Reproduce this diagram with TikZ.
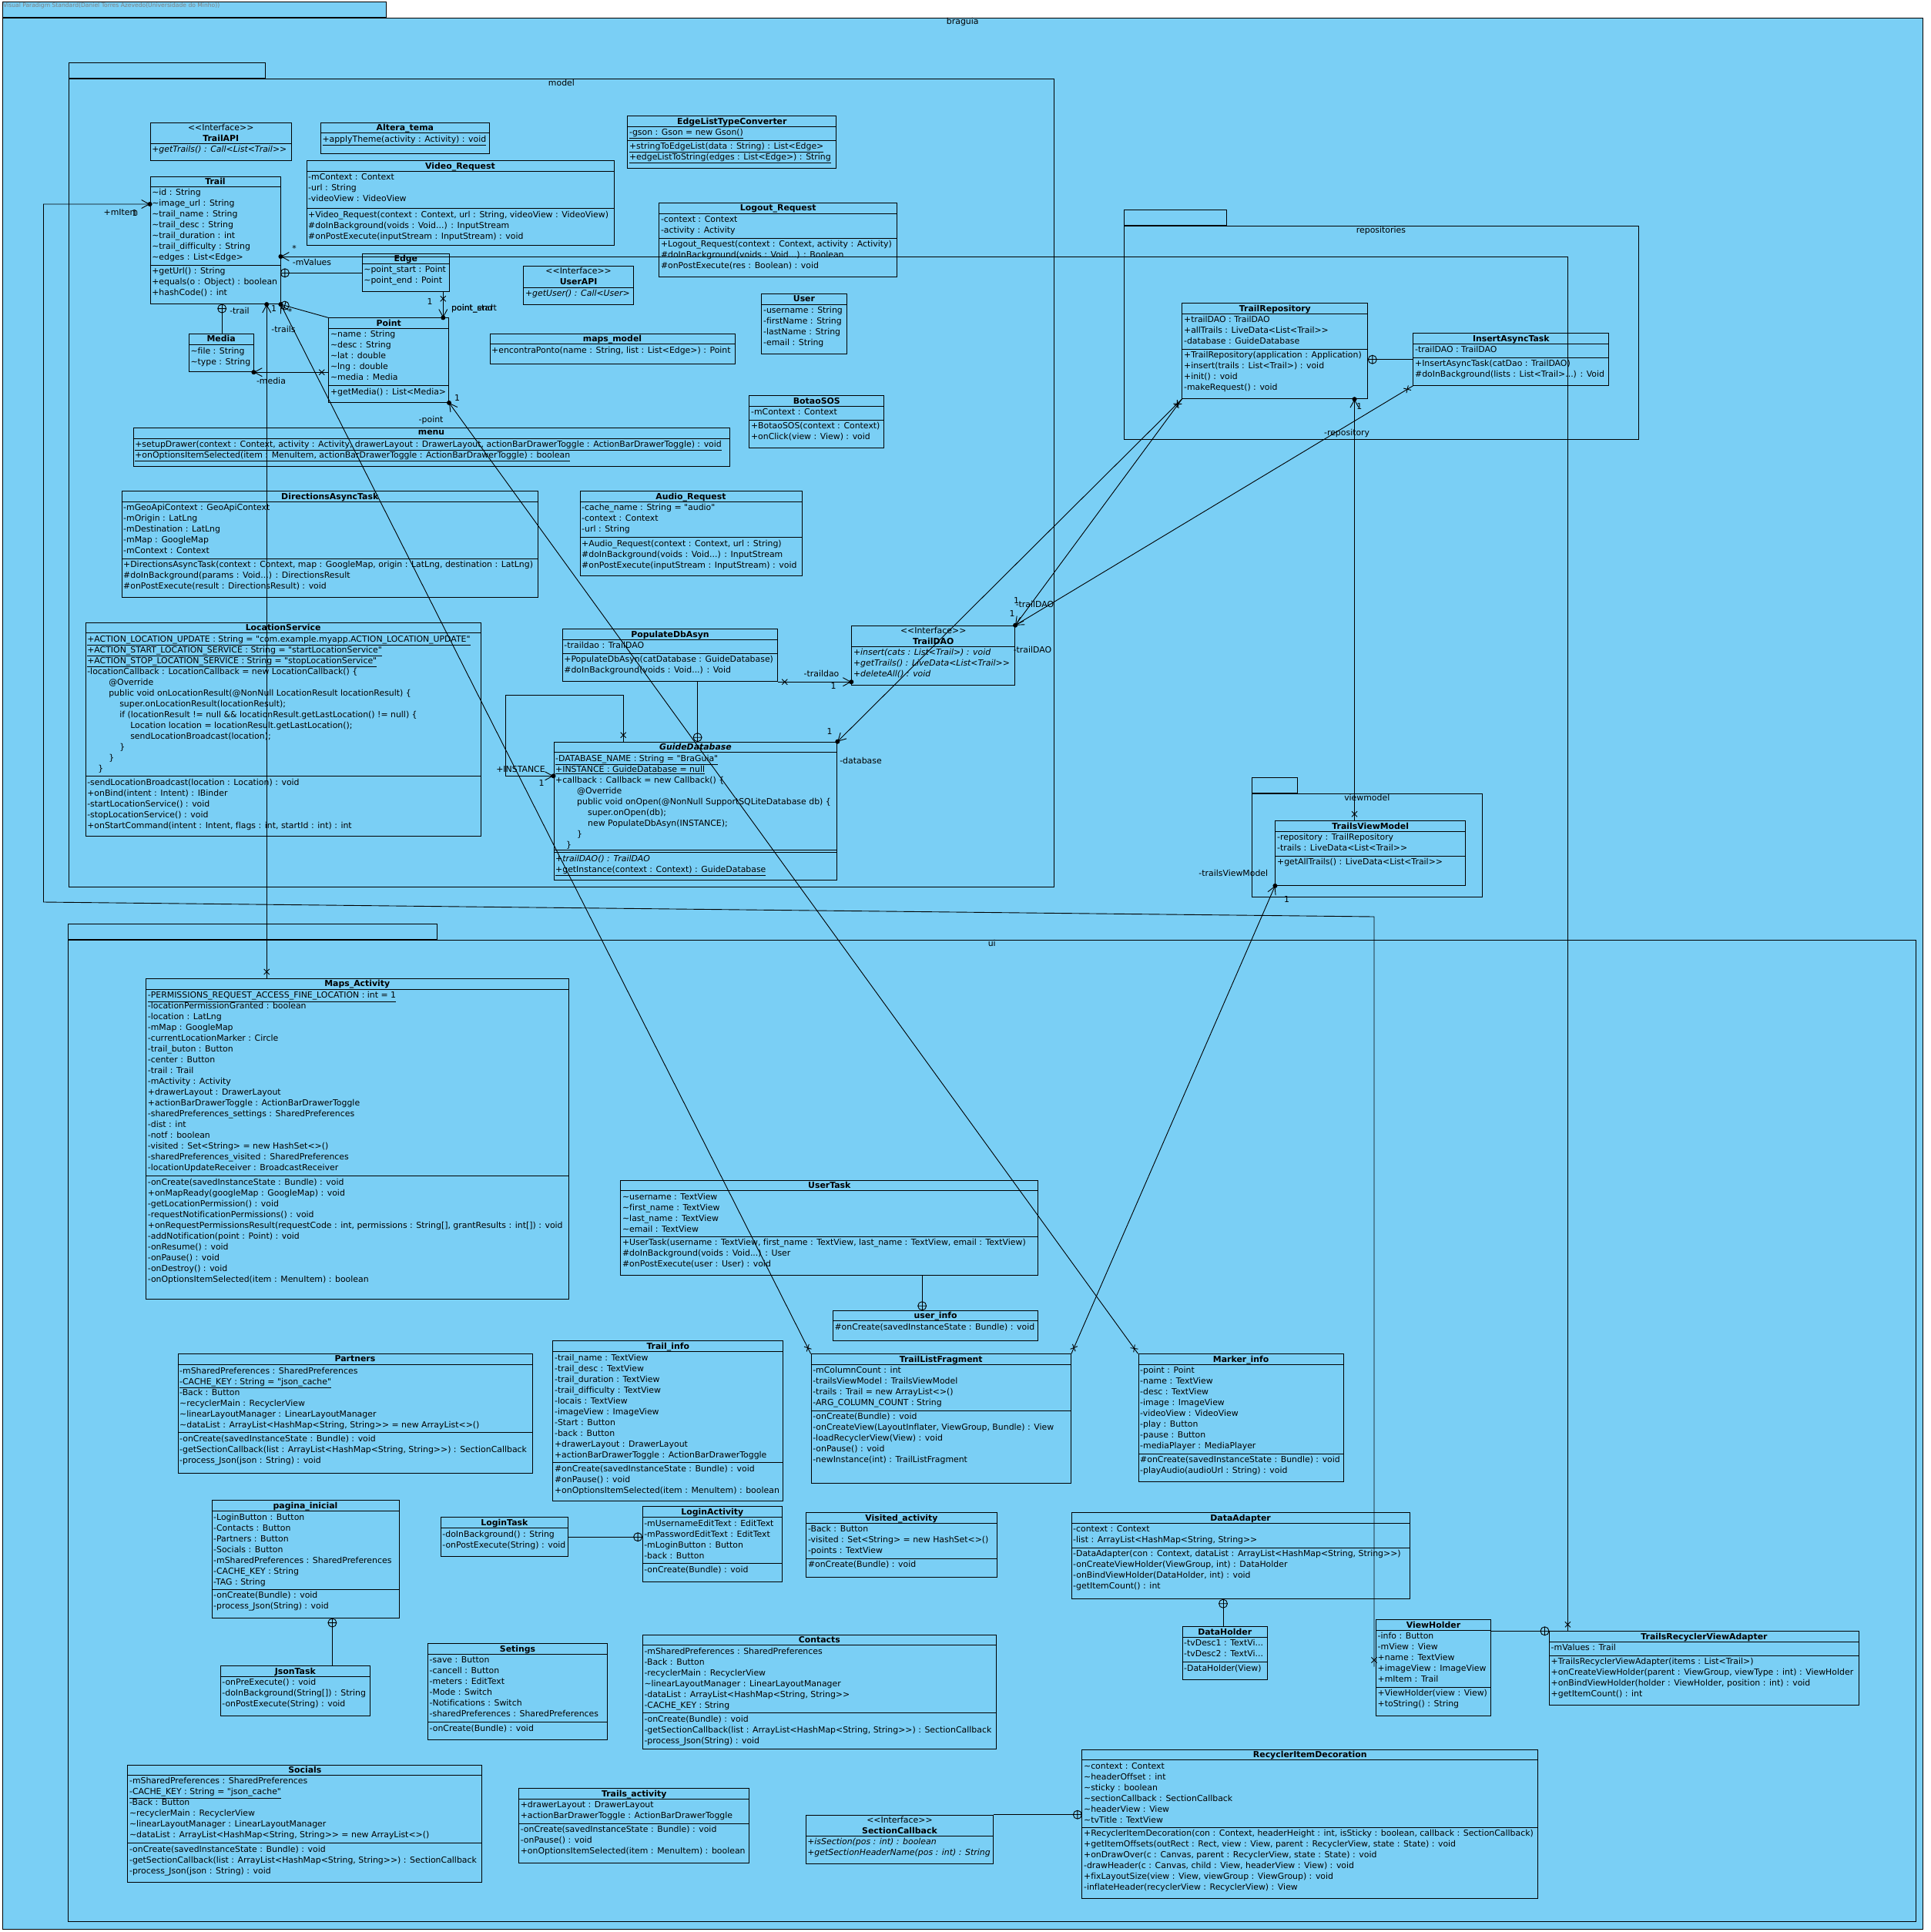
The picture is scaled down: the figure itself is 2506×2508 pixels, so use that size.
\documentclass[tikz,border=0pt]{standalone}
\usepackage{fontspec}
\setmainfont{DejaVu Sans}[Ligatures={TeXOff,NoCommon}]
\usetikzlibrary{calc,arrows.meta}
\definecolor{umlblue}{RGB}{122,207,245}
\newcommand{\memberfont}{\fontsize{10.9}{14}\selectfont}
\newcommand{\til}{\textasciitilde}

\tikzset{
  classbox/.style={draw, fill=umlblue, line width=0.9pt, anchor=north west, inner sep=0pt},
  pkgbox/.style={draw, fill=umlblue, line width=0.9pt, anchor=north west, inner sep=0pt},
  pkglabel/.style={anchor=north, inner sep=1pt, font=\memberfont},
  titletext/.style={anchor=north, align=center, inner sep=2.5pt, font=\memberfont\bfseries},
  membertext/.style={anchor=north west, align=left, inner xsep=2.5pt, inner ysep=3pt, font=\memberfont},
  rolelabel/.style={inner sep=0pt, font=\memberfont},
  link/.style={line width=0.9pt},
  nav/.style={link, -{Straight Barb[length=10pt,width=11pt]}},
}

\newcommand{\umlclass}[6]{%
  \node[classbox, minimum width=#4pt, minimum height=#5pt] (#1) at (#2,#3) {};
  \node[titletext] at (#1.north) {#6};}
\newcommand{\compart}[3]{%
  \draw[line width=0.9pt] ($(#1.north west)+(0,#2)$) -- ($(#1.north east)+(0,#2)$);
  \node[membertext] at ($(#1.north west)+(0,#2)$) {#3};}
\newcommand{\umlpackage}[7]{%
  \node[pkgbox, minimum width=#6pt, minimum height=20pt, anchor=south west] (#1tab) at (#2,#3) {};
  \node[pkgbox, minimum width=#4pt, minimum height=#5pt] (#1) at (#2,#3) {};
  \node[pkglabel] at (#1.north) {#7};}
\newcommand{\nested}[2]{%
  \draw[link] (#1) -- (#2);
  \coordinate (nc) at ($(#1)!5.5pt!(#2)$);
  \draw[link] (nc) circle (5.5pt) ($(nc)!5.5pt!90:(#2)$) -- ($(nc)!5.5pt!-90:(#2)$);}
\newcommand{\xend}[2]{%
  \coordinate (xc) at ($(#1)!8.5pt!(#2)$);
  \draw[link] ($(xc)!5pt!45:(#2)$) -- ($(xc)!5pt!225:(#2)$) ($(xc)!5pt!135:(#2)$) -- ($(xc)!5pt!315:(#2)$);}
\newcommand{\dotend}[1]{\fill (#1) circle (3pt);}

\begin{document}
\begin{tikzpicture}[x=1pt, y=-1pt]
\useasboundingbox (0,0) rectangle (2506,2508);

\umlpackage{braguia}{2.6}{22.5}{2493.4}{2481.8}{498.4}{braguia}
\node[anchor=west, inner sep=0pt, text=gray, font=\fontsize{7.6}{9}\selectfont] (watermark) at (4,7.5) {Visual Paradigm Standard(Daniel Torres Azevedo(Universidade do Minho))};
\umlpackage{model}{89}{102}{1279}{1049}{255}{model}
\umlpackage{repositories}{1458.5}{293.3}{668}{277}{133}{repositories}
\umlpackage{viewmodel}{1624.6}{1030}{299.4}{134.3}{59.4}{viewmodel}
\umlpackage{ui}{88}{1219.5}{2398.6}{1274.8}{479.3}{ui}

\umlclass{trailapi}{194.6}{158.6}{183.4}{49.8}{{\mdseries <<Interface>>}\\TrailAPI}
\compart{trailapi}{27.6}{\textit{+getTrails() : Call<List<Trail>>}}

\umlclass{alteratema}{415.8}{158.6}{219.2}{39.9}{Altera\_tema}
\compart{alteratema}{14.2}{\underline{+applyTheme(activity : Activity) : void}}

\umlclass{videoreq}{397.5}{208.4}{399}{109.9}{Video\_Request}
\compart{videoreq}{14.2}{-mContext : Context\\-url : String\\-videoView : VideoView}
\compart{videoreq}{62.5}{+Video\_Request(context : Context, url : String, videoView : VideoView)\\\#doInBackground(voids : Void...) : InputStream\\\#onPostExecute(inputStream : InputStream) : void}

\umlclass{trail}{194.6}{228.5}{168.9}{165.7}{Trail}
\compart{trail}{13.9}{\til id : String\\\til image\_url : String\\\til trail\_name : String\\\til trail\_desc : String\\\til trail\_duration : int\\\til trail\_difficulty : String\\\til edges : List<Edge>}
\compart{trail}{115.9}{+getUrl() : String\\+equals(o : Object) : boolean\\+hashCode() : int}

\umlclass{edge}{469.7}{328.6}{113.5}{49.8}{Edge}
\compart{edge}{13.8}{\til point\_start : Point\\\til point\_end : Point}

\umlclass{userapi}{679.4}{345}{142.6}{50}{{\mdseries <<Interface>>}\\UserAPI}
\compart{userapi}{28.3}{\textit{+getUser() : Call<User>}}

\umlclass{point}{426.3}{412.4}{155.8}{109.6}{Point}
\compart{point}{13.9}{\til name : String\\\til desc : String\\\til lat : double\\\til lng : double\\\til media : Media}
\compart{point}{88.2}{+getMedia() : List<Media>}

\umlclass{media}{244.8}{432.6}{83.7}{49.8}{Media}
\compart{media}{15}{\til file : String\\\til type : String}

\umlclass{mapsmodel}{635.5}{432.5}{318.1}{39.8}{maps\_model}
\compart{mapsmodel}{14.2}{+encontraPonto(name : String, list : List<Edge>) : Point}

\umlclass{menu}{172.6}{555.4}{774.1}{49.6}{menu}
\compart{menu}{14}{\underline{+setupDrawer(context : Context, activity : Activity, drawerLayout : DrawerLayout, actionBarDrawerToggle : ActionBarDrawerToggle) : void}\\\underline{+onOptionsItemSelected(item : MenuItem, actionBarDrawerToggle : ActionBarDrawerToggle) : boolean}}

\umlclass{edgeconv}{814.4}{150.3}{270.9}{68}{EdgeListTypeConverter}
\compart{edgeconv}{14}{\underline{-gson : Gson = new Gson()}}
\compart{edgeconv}{32}{\underline{+stringToEdgeList(data : String) : List<Edge>}\\\underline{+edgeListToString(edges : List<Edge>) : String}}

\umlclass{logoutreq}{855.3}{263.3}{309}{96}{Logout\_Request}
\compart{logoutreq}{14}{-context : Context\\-activity : Activity}
\compart{logoutreq}{46}{+Logout\_Request(context : Context, activity : Activity)\\\#doInBackground(voids : Void...) : Boolean\\\#onPostExecute(res : Boolean) : void}

\umlclass{user}{988.4}{381.3}{110.2}{78}{User}
\compart{user}{14}{-username : String\\-firstName : String\\-lastName : String\\-email : String}

\umlclass{botaosos}{972.4}{513.3}{174.9}{68}{BotaoSOS}
\compart{botaosos}{14}{-mContext : Context}
\compart{botaosos}{32}{+BotaoSOS(context : Context)\\+onClick(view : View) : void}

\umlclass{directions}{157.5}{637.3}{540.6}{138}{DirectionsAsyncTask}
\compart{directions}{14}{-mGeoApiContext : GeoApiContext\\-mOrigin : LatLng\\-mDestination : LatLng\\-mMap : GoogleMap\\-mContext : Context}
\compart{directions}{88}{+DirectionsAsyncTask(context : Context, map : GoogleMap, origin : LatLng, destination : LatLng)\\\#doInBackground(params : Void...) : DirectionsResult\\\#onPostExecute(result : DirectionsResult) : void}

\umlclass{audioreq}{752.5}{637.3}{288.1}{110}{Audio\_Request}
\compart{audioreq}{14}{-cache\_name : String = "audio"\\-context : Context\\-url : String}
\compart{audioreq}{60.4}{+Audio\_Request(context : Context, url : String)\\\#doInBackground(voids : Void...) : InputStream\\\#onPostExecute(inputStream : InputStream) : void}

\umlclass{locservice}{110.6}{807.7}{513.2}{277.3}{LocationService}
\compart{locservice}{14}{\underline{+ACTION\_LOCATION\_UPDATE : String = "com.example.myapp.ACTION\_LOCATION\_UPDATE"}\\
\underline{+ACTION\_START\_LOCATION\_SERVICE : String = "startLocationService"}\\
\underline{+ACTION\_STOP\_LOCATION\_SERVICE : String = "stopLocationService"}\\
-locationCallback : LocationCallback = new LocationCallback() \{\\
\hspace*{28pt}@Override\\
\hspace*{28pt}public void onLocationResult(@NonNull LocationResult locationResult) \{\\
\hspace*{42pt}super.onLocationResult(locationResult);\\
\hspace*{42pt}if (locationResult != null \&\& locationResult.getLastLocation() != null) \{\\
\hspace*{56pt}Location location = locationResult.getLastLocation();\\
\hspace*{56pt}sendLocationBroadcast(location);\\
\hspace*{42pt}\}\\
\hspace*{28pt}\}\\
\hspace*{14pt}\}}
\compart{locservice}{200}{-sendLocationBroadcast(location : Location) : void\\+onBind(intent : Intent) : IBinder\\-startLocationService() : void\\-stopLocationService() : void\\+onStartCommand(intent : Intent, flags : int, startId : int) : int}

\umlclass{populate}{729.7}{816.3}{279.7}{68}{PopulateDbAsyn}
\compart{populate}{14}{-traildao : TrailDAO}
\compart{populate}{32}{+PopulateDbAsyn(catDatabase : GuideDatabase)\\\#doInBackground(voids : Void...) : Void}

\umlclass{traildao}{1105.3}{811.7}{211.9}{77.6}{{\mdseries <<Interface>>}\\TrailDAO}
\compart{traildao}{27.6}{\textit{+insert(cats : List<Trail>) : void}\\\textit{+getTrails() : LiveData<List<Trail>>}\\\textit{+deleteAll() : void}}

\umlclass{guidedb}{718.5}{962.7}{367.9}{179.6}{\textit{GuideDatabase}}
\compart{guidedb}{14}{\underline{-DATABASE\_NAME : String = "BraGuia"}\\\underline{+INSTANCE : GuideDatabase = null}\\+callback : Callback = new Callback() \{\\
\hspace*{28pt}@Override\\
\hspace*{28pt}public void onOpen(@NonNull SupportSQLiteDatabase db) \{\\
\hspace*{42pt}super.onOpen(db);\\
\hspace*{42pt}new PopulateDbAsyn(INSTANCE);\\
\hspace*{28pt}\}\\
\hspace*{14pt}\}}
\compart{guidedb}{140.6}{}
\compart{guidedb}{144}{\textit{+trailDAO() : TrailDAO}\\\underline{+getInstance(context : Context) : GuideDatabase}}

\umlclass{trailrepo}{1534.4}{393.3}{241}{124}{TrailRepository}
\compart{trailrepo}{14}{+trailDAO : TrailDAO\\+allTrails : LiveData<List<Trail>>\\-database : GuideDatabase}
\compart{trailrepo}{59.7}{+TrailRepository(application : Application)\\+insert(trails : List<Trail>) : void\\+init() : void\\-makeRequest() : void}

\umlclass{insertasync}{1834.4}{432.3}{254}{67.7}{InsertAsyncTask}
\compart{insertasync}{14}{-trailDAO : TrailDAO}
\compart{insertasync}{32}{+InsertAsyncTask(catDao : TrailDAO)\\\#doInBackground(lists : List<Trail>...) : Void}

\umlclass{trailsvm}{1655.4}{1065.3}{246.8}{83.7}{TrailsViewModel}
\compart{trailsvm}{14}{-repository : TrailRepository\\-trails : LiveData<List<Trail>>}
\compart{trailsvm}{45.7}{+getAllTrails() : LiveData<List<Trail>>}

\umlclass{mapsact}{189.2}{1270}{548.3}{416}{Maps\_Activity}
\compart{mapsact}{14.3}{\underline{-PERMISSIONS\_REQUEST\_ACCESS\_FINE\_LOCATION : int = 1}\\-locationPermissionGranted : boolean\\-location : LatLng\\-mMap : GoogleMap\\-currentLocationMarker : Circle\\-trail\_buton : Button\\-center : Button\\-trail : Trail\\-mActivity : Activity\\+drawerLayout : DrawerLayout\\+actionBarDrawerToggle : ActionBarDrawerToggle\\-sharedPreferences\_settings : SharedPreferences\\-dist : int\\-notf : boolean\\-visited : Set<String> = new HashSet<>()\\-sharedPreferences\_visited : SharedPreferences\\-locationUpdateReceiver : BroadcastReceiver}
\compart{mapsact}{256.7}{-onCreate(savedInstanceState : Bundle) : void\\+onMapReady(googleMap : GoogleMap) : void\\-getLocationPermission() : void\\-requestNotificationPermissions() : void\\+onRequestPermissionsResult(requestCode : int, permissions : String[], grantResults : int[]) : void\\-addNotification(point : Point) : void\\-onResume() : void\\-onPause() : void\\-onDestroy() : void\\-onOptionsItemSelected(item : MenuItem) : boolean}

\umlclass{usertask}{805.4}{1531.7}{542}{123.3}{UserTask}
\compart{usertask}{14}{\til username : TextView\\\til first\_name : TextView\\\til last\_name : TextView\\\til email : TextView}
\compart{usertask}{73.6}{+UserTask(username : TextView, first\_name : TextView, last\_name : TextView, email : TextView)\\\#doInBackground(voids : Void...) : User\\\#onPostExecute(user : User) : void}

\umlclass{userinfo}{1080.9}{1700.7}{266.5}{39.6}{user\_info}
\compart{userinfo}{14}{\#onCreate(savedInstanceState : Bundle) : void}

\umlclass{partners}{230.5}{1757.2}{460.1}{154.3}{Partners}
\compart{partners}{14.5}{-mSharedPreferences : SharedPreferences\\\underline{-CACHE\_KEY : String = "json\_cache"}\\-Back : Button\\\til recyclerMain : RecyclerView\\\til linearLayoutManager : LinearLayoutManager\\\til dataList : ArrayList<HashMap<String, String>> = new ArrayList<>()}
\compart{partners}{102.3}{-onCreate(savedInstanceState : Bundle) : void\\-getSectionCallback(list : ArrayList<HashMap<String, String>>) : SectionCallback\\-process\_Json(json : String) : void}

\umlclass{trailinfo}{717.4}{1740.3}{298.9}{208}{Trail\_info}
\compart{trailinfo}{14.5}{-trail\_name : TextView\\-trail\_desc : TextView\\-trail\_duration : TextView\\-trail\_difficulty : TextView\\-locais : TextView\\-imageView : ImageView\\-Start : Button\\-back : Button\\+drawerLayout : DrawerLayout\\+actionBarDrawerToggle : ActionBarDrawerToggle}
\compart{trailinfo}{158.4}{\#onCreate(savedInstanceState : Bundle) : void\\\#onPause() : void\\+onOptionsItemSelected(item : MenuItem) : boolean}

\umlclass{trailfrag}{1052.6}{1757.3}{337.4}{168}{TrailListFragment}
\compart{trailfrag}{14}{-mColumnCount : int\\-trailsViewModel : TrailsViewModel\\-trails : Trail = new ArrayList<>()\\-ARG\_COLUMN\_COUNT : String}
\compart{trailfrag}{74}{-onCreate(Bundle) : void\\-onCreateView(LayoutInflater, ViewGroup, Bundle) : View\\-loadRecyclerView(View) : void\\-onPause() : void\\-newInstance(int) : TrailListFragment}

\umlclass{markerinfo}{1477.5}{1757.3}{266.5}{166}{Marker\_info}
\compart{markerinfo}{14}{-point : Point\\-name : TextView\\-desc : TextView\\-image : ImageView\\-videoView : VideoView\\-play : Button\\-pause : Button\\-mediaPlayer : MediaPlayer}
\compart{markerinfo}{130}{\#onCreate(savedInstanceState : Bundle) : void\\-playAudio(audioUrl : String) : void}

\umlclass{pagina}{274.5}{1947.3}{243.1}{152.9}{pagina\_inicial}
\compart{pagina}{14.4}{-LoginButton : Button\\-Contacts : Button\\-Partners : Button\\-Socials : Button\\-mSharedPreferences : SharedPreferences\\-CACHE\_KEY : String\\-TAG : String}
\compart{pagina}{116}{-onCreate(Bundle) : void\\-process\_Json(String) : void}

\umlclass{logintask}{571.7}{1969.3}{165.5}{51}{LoginTask}
\compart{logintask}{14.5}{-doInBackground() : String\\-onPostExecute(String) : void}

\umlclass{loginact}{833.6}{1955.2}{181.6}{97.8}{LoginActivity}
\compart{loginact}{14.5}{-mUsernameEditText : EditText\\-mPasswordEditText : EditText\\-mLoginButton : Button\\-back : Button}
\compart{loginact}{74.4}{-onCreate(Bundle) : void}

\umlclass{visited}{1046.3}{1963.3}{247.3}{84}{Visited\_activity}
\compart{visited}{14}{-Back : Button\\-visited : Set<String> = new HashSet<>()\\-points : TextView}
\compart{visited}{60}{\#onCreate(Bundle) : void}

\umlclass{dataadapter}{1390.5}{1963.3}{439.3}{112}{DataAdapter}
\compart{dataadapter}{14}{-context : Context\\-list : ArrayList<HashMap<String, String>>}
\compart{dataadapter}{46}{-DataAdapter(con : Context, dataList : ArrayList<HashMap<String, String>>)\\-onCreateViewHolder(ViewGroup, int) : DataHolder\\-onBindViewHolder(DataHolder, int) : void\\-getItemCount() : int}

\umlclass{dataholder}{1534.5}{2111.3}{110.5}{69}{DataHolder}
\compart{dataholder}{14}{-tvDesc1 : TextVi...\\-tvDesc2 : TextVi...}
\compart{dataholder}{46.4}{-DataHolder(View)}

\umlclass{viewholder}{1786}{2102.3}{149}{125}{ViewHolder}
\compart{viewholder}{14}{-info : Button\\-mView : View\\+name : TextView\\+imageView : ImageView\\+mItem : Trail}
\compart{viewholder}{87.7}{+ViewHolder(view : View)\\+toString() : String}

\umlclass{recadapter}{2011}{2117.3}{402}{96}{TrailsRecyclerViewAdapter}
\compart{recadapter}{14}{-mValues : Trail}
\compart{recadapter}{32}{+TrailsRecyclerViewAdapter(items : List<Trail>)\\+onCreateViewHolder(parent : ViewGroup, viewType : int) : ViewHolder\\+onBindViewHolder(holder : ViewHolder, position : int) : void\\+getItemCount() : int}

\umlclass{jsontask}{285.7}{2162.3}{194.4}{65}{JsonTask}
\compart{jsontask}{14}{-onPreExecute() : void\\-doInBackground(String[]) : String\\-onPostExecute(String) : void}

\umlclass{setings}{555}{2133.3}{233.3}{125}{Setings}
\compart{setings}{14}{-save : Button\\-cancell : Button\\-meters : EditText\\-Mode : Switch\\-Notifications : Switch\\-sharedPreferences : SharedPreferences}
\compart{setings}{102.4}{-onCreate(Bundle) : void}

\umlclass{contacts}{833.8}{2121.7}{459.2}{148.6}{Contacts}
\compart{contacts}{14}{-mSharedPreferences : SharedPreferences\\-Back : Button\\-recyclerMain : RecyclerView\\\til linearLayoutManager : LinearLayoutManager\\-dataList : ArrayList<HashMap<String, String>>\\-CACHE\_KEY : String}
\compart{contacts}{102}{-onCreate(Bundle) : void\\-getSectionCallback(list : ArrayList<HashMap<String, String>>) : SectionCallback\\-process\_Json(String) : void}

\umlclass{socials}{165.4}{2290.7}{460}{152.3}{Socials}
\compart{socials}{13.6}{-mSharedPreferences : SharedPreferences\\\underline{-CACHE\_KEY : String = "json\_cache"}\\-Back : Button\\\til recyclerMain : RecyclerView\\\til linearLayoutManager : LinearLayoutManager\\\til dataList : ArrayList<HashMap<String, String>> = new ArrayList<>()}
\compart{socials}{102}{-onCreate(savedInstanceState : Bundle) : void\\-getSectionCallback(list : ArrayList<HashMap<String, String>>) : SectionCallback\\-process\_Json(json : String) : void}

\umlclass{trailsact}{673.1}{2321.3}{299.3}{97}{Trails\_activity}
\compart{trailsact}{14}{+drawerLayout : DrawerLayout\\+actionBarDrawerToggle : ActionBarDrawerToggle}
\compart{trailsact}{46}{-onCreate(savedInstanceState : Bundle) : void\\-onPause() : void\\+onOptionsItemSelected(item : MenuItem) : boolean}

\umlclass{sectioncb}{1045.6}{2355.7}{243.8}{63.6}{{\mdseries <<Interface>>}\\SectionCallback}
\compart{sectioncb}{27.6}{\textit{+isSection(pos : int) : boolean}\\\textit{+getSectionHeaderName(pos : int) : String}}

\umlclass{recdeco}{1404.4}{2270.7}{591.9}{193.3}{RecyclerItemDecoration}
\compart{recdeco}{14}{\til context : Context\\\til headerOffset : int\\\til sticky : boolean\\\til sectionCallback : SectionCallback\\\til headerView : View\\\til tvTitle : TextView}
\compart{recdeco}{101.6}{+RecyclerItemDecoration(con : Context, headerHeight : int, isSticky : boolean, callback : SectionCallback)\\+getItemOffsets(outRect : Rect, view : View, parent : RecyclerView, state : State) : void\\+onDrawOver(c : Canvas, parent : RecyclerView, state : State) : void\\-drawHeader(c : Canvas, child : View, headerView : View) : void\\+fixLayoutSize(view : View, viewGroup : ViewGroup) : void\\-inflateHeader(recyclerView : RecyclerView) : View}

\coordinate (trailE1) at ($(trail.north east)+(0,125.8)$);
\coordinate (edgeW1) at (trailE1 -| edge.west);
\nested{trailE1}{edgeW1}
\coordinate (trailS1) at ($(trail.south west)+(93.6,0)$);
\coordinate (mediaN1) at (trailS1 |- media.north);
\nested{trailS1}{mediaN1}
\nested{trail.south east}{point.north west}

\coordinate (edgeS1) at ($(edge.south west)+(105.6,0)$);
\coordinate (pointN1) at (edgeS1 |- point.north);
\draw[nav] (edgeS1) -- (pointN1);
\xend{edgeS1}{pointN1}
\dotend{pointN1}
\node[rolelabel] at (558,391.5) {1};
\node[rolelabel, anchor=west] at (586,401) {point\_start};
\node[rolelabel, anchor=west] at (586,401) {point\_end};

\coordinate (pointW1) at ($(point.north west)+(0,70.8)$);
\coordinate (mediaE1) at (pointW1 -| media.east);
\draw[nav] (pointW1) -- (mediaE1);
\xend{pointW1}{mediaE1}
\dotend{mediaE1}
\node[rolelabel] at (352,494) {-media};

\coordinate (adaptN1) at ($(recadapter.north west)+(24.4,0)$);
\coordinate (adaptUp) at ($(adaptN1)+(0,-30)$);
\coordinate (trailE2) at ($(trail.north east)+(0,104.5)$);
\draw[nav] (adaptN1) |- (trailE2);
\xend{adaptN1}{adaptUp}
\dotend{trailE2}
\node[rolelabel] at (382,322) {*};
\node[rolelabel] at (405,340) {-mValues};

\coordinate (mapsN1) at ($(mapsact.north west)+(157,0)$);
\coordinate (trailS2) at (mapsN1 |- trail.south);
\draw[nav] (mapsN1) -- (trailS2);
\xend{mapsN1}{trailS2}
\dotend{trailS2}
\node[rolelabel] at (311,403) {-trail};
\node[rolelabel] at (355.6,401) {1};

\draw[nav] (trailfrag.north west) -- (trail.south east);
\xend{trailfrag.north west}{trail.south east}
\dotend{trail.south east}
\node[rolelabel] at (376.6,404) {*};
\node[rolelabel] at (368,427) {-trails};

\draw[nav] (markerinfo.north west) -- (point.south east);
\xend{markerinfo.north west}{point.south east}
\dotend{point.south east}
\node[rolelabel] at (593.6,517) {1};
\node[rolelabel] at (559.6,545) {-point};

\draw[nav] (trailfrag.north east) -- (trailsvm.south west);
\xend{trailfrag.north east}{trailsvm.south west}
\dotend{trailsvm.south west}
\node[rolelabel] at (1601.3,1133.3) {-trailsViewModel};
\node[rolelabel] at (1670.5,1167.3) {1};

\coordinate (tvmN1) at ($(trailsvm.north west)+(103.1,0)$);
\coordinate (repoS1) at (tvmN1 |- trailrepo.south);
\draw[nav] (tvmN1) -- (repoS1);
\xend{tvmN1}{repoS1}
\dotend{repoS1}
\node[rolelabel] at (1764.7,528) {1};
\node[rolelabel] at (1748.6,562.3) {-repository};

\draw[nav] (trailrepo.south west) -- (traildao.north east);
\xend{trailrepo.south west}{traildao.north east}
\draw[nav] (trailrepo.south west) -- (guidedb.north east);
\xend{trailrepo.south west}{guidedb.north east}
\dotend{guidedb.north east}
\draw[nav] (insertasync.south west) -- (traildao.north east);
\xend{insertasync.south west}{traildao.north east}
\dotend{traildao.north east}
\node[rolelabel] at (1314,796.7) {1};
\node[rolelabel] at (1319.5,780) {1};
\node[rolelabel] at (1343.5,784.3) {-trailDAO};
\node[rolelabel] at (1340.5,843.3) {-trailDAO};
\node[rolelabel] at (1077,950) {1};
\node[rolelabel] at (1117.5,987.3) {-database};

\coordinate (repoE1) at ($(trailrepo.north east)+(0,73.4)$);
\coordinate (insertW1) at (repoE1 -| insertasync.west);
\nested{repoE1}{insertW1}

\coordinate (gdbN1) at ($(guidedb.north west)+(187.1,0)$);
\coordinate (popS1) at (gdbN1 |- populate.south);
\nested{gdbN1}{popS1}

\coordinate (gdbN2) at ($(guidedb.north west)+(90.7,0)$);
\coordinate (gdbUp) at ($(gdbN2)+(0,-60.4)$);
\coordinate (gdbW1) at ($(guidedb.north west)+(0,44.6)$);
\coordinate (gdbLeft) at ($(gdbW1)+(-62,0)$);
\draw[nav] (gdbN2) -- (gdbUp) -| (gdbLeft) -- (gdbW1);
\xend{gdbN2}{gdbUp}
\dotend{gdbW1}
\node[rolelabel] at (676,999) {+INSTANCE};
\node[rolelabel] at (703,1017) {1};

\coordinate (daoW1) at (populate.south east -| traildao.west);
\draw[nav] (populate.south east) -- (daoW1);
\xend{populate.south east}{daoW1}
\dotend{daoW1}
\node[rolelabel] at (1066.5,874.3) {-traildao};
\node[rolelabel] at (1082,891) {1};

\coordinate (uinfoN1) at ($(userinfo.north west)+(116.3,0)$);
\coordinate (utaskS1) at (uinfoN1 |- usertask.south);
\nested{uinfoN1}{utaskS1}
\coordinate (loginW1) at ($(loginact.north west)+(0,40)$);
\coordinate (ltaskE1) at (loginW1 -| logintask.east);
\nested{loginW1}{ltaskE1}
\coordinate (paginaS1) at ($(pagina.south west)+(156.9,0)$);
\coordinate (jsonN1) at (paginaS1 |- jsontask.north);
\nested{paginaS1}{jsonN1}
\coordinate (dadS1) at ($(dataadapter.south west)+(197.5,0)$);
\coordinate (dholdN1) at (dadS1 |- dataholder.north);
\nested{dadS1}{dholdN1}
\coordinate (vhE1) at (recadapter.north west -| viewholder.east);
\nested{recadapter.north west}{vhE1}
\coordinate (decoW1) at (sectioncb.north east -| recdeco.west);
\nested{decoW1}{sectioncb.north east}

\coordinate (vhW1) at ($(viewholder.north west)+(-2,61.2)$);
\coordinate (mitemA) at ($(vhW1)+(0,-973.5)$);
\coordinate (trailW1) at ($(trail.north west)+(0,36.5)$);
\coordinate (mitemB) at ($(trailW1)+(-138.1,906)$);
\draw[nav] (vhW1) -- (mitemA) -- (mitemB) |- (trailW1);
\xend{vhW1}{mitemA}
\dotend{trailW1}
\node[rolelabel] at (157,275.6) {+mItem};
\node[rolelabel] at (175.2,276.6) {1};
\end{tikzpicture}
\end{document}
